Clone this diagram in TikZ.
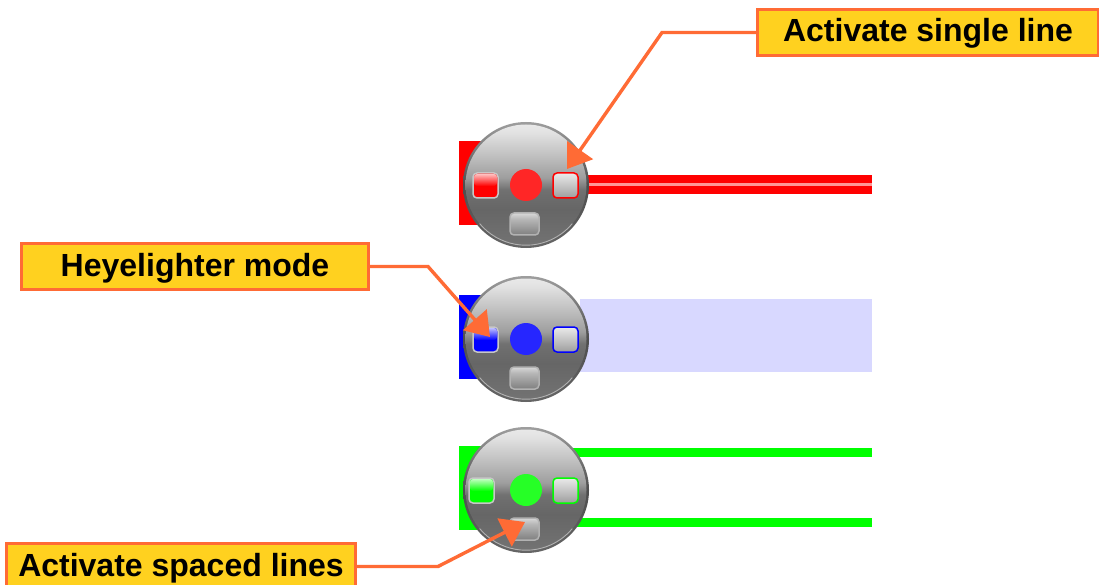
\documentclass[tikz,border=0pt]{standalone}
\usepackage{fontspec}
\setmainfont{Liberation Sans}
\usetikzlibrary{arrows.meta}
\definecolor{calloutfill}{RGB}{255,209,31}
\definecolor{calloutline}{RGB}{255,107,53}
\definecolor{palered}{RGB}{255,150,150}
\definecolor{paleblue}{RGB}{216,216,255}
\definecolor{puregreen}{RGB}{0,255,0}
\pgfdeclareverticalshading{ballshade}{100bp}{
  color(0bp)=(black!60); color(25bp)=(black!55); color(40bp)=(black!60);
  color(48bp)=(black!56); color(53bp)=(black!38); color(62bp)=(black!25); color(72bp)=(black!11); color(75bp)=(black!9); color(100bp)=(black!9)}
\pgfdeclareverticalshading{rimshade}{100bp}{
  color(0bp)=(black!60); color(25bp)=(black!60); color(50bp)=(black!70); color(75bp)=(black!38); color(100bp)=(black!38)}
\pgfdeclareverticalshading{greybtn}{100bp}{
  color(0bp)=(black!50); color(25bp)=(black!50); color(62bp)=(black!28); color(75bp)=(black!15); color(100bp)=(black!15)}
\pgfdeclareverticalshading{lightbtn}{100bp}{
  color(0bp)=(black!38); color(25bp)=(black!38); color(75bp)=(black!8); color(100bp)=(black!8)}
\tikzset{
  callout/.style={draw=calloutline,fill=calloutfill,line width=3pt,inner sep=0pt,
    minimum height=46pt,text height=23pt,text depth=4pt,font=\fontsize{32}{38}\selectfont\bfseries,text=black,anchor=center},
  leader/.style={draw=calloutline,line width=3.4pt,line join=miter,
    -{Triangle[length=23pt,width=31pt]}},
  btn/.style={rounded corners=4pt,line width=1.5pt}
}
% #1 centre x, #2 centre y, #3 colour, #4 name, #5 left button shift
\newcommand{\gadget}[5]{%
  \fill[#3] (#1-67,#2-44) rectangle (#1-30,#2+40);
  \shade[shading=rimshade] (#1,#2) circle[radius=63];
  \shade[shading=ballshade] (#1,#2) circle[radius=60.5];
  \draw[black!30,line width=0.9pt] (#1+46.3,#2+38.6) arc[start angle=40,end angle=140,radius=60.5];
  % left button
  \path[btn,draw=black!22,fill=#3] (#1-53+#5,#2-12) rectangle (#1-28+#5,#2+13);
  \shade[rounded corners=3pt,top color=white!75!#3,bottom color=#3] (#1-52+#5,#2-11) rectangle (#1-29+#5,#2+1);
  % centre lamp
  \fill[#3!85!white] (#1,#2) circle[radius=16];
  % right button
  \shade[btn,draw=#3,shading=lightbtn] (#1+27,#2-12) rectangle (#1+52,#2+13);
  % bottom button
  \shade[btn,draw=black!30,shading=greybtn] (#1-16,#2+28) rectangle (#1+13,#2+50);
  \coordinate (#4) at (#1,#2);
}
\begin{document}
\begin{tikzpicture}[x=1pt,y=-1pt]
\useasboundingbox (0,0) rectangle (1099,585);
\clip (0,0) rectangle (1099,585);
\fill[white] (0,0) rectangle (1099,585);
% beams
\fill[red] (580,175) rectangle (872,194);
\fill[palered] (580,183) rectangle (872,186.5);
\fill[paleblue] (580,299) rectangle (872,372);
\fill[puregreen] (560,448) rectangle (872,457);
\fill[puregreen] (560,518) rectangle (872,527);
% widgets
\gadget{526}{185}{red}{wa}{0}
\gadget{526}{339}{blue}{wb}{0}
\gadget{526}{490}{puregreen}{wc}{-4}
% callouts
\node[callout,minimum width=341pt] (single) at (928,32.5) {Activate single line};
\node[callout,minimum width=347pt] (heye) at (195,266.5) {Heyelighter mode};
\node[callout,minimum width=349pt] (spaced) at (181,566.5) {Activate spaced lines};
% leaders
\coordinate (bendA) at (662,32.5);
\coordinate (tipA) at (567,169);
\coordinate (bendB) at (428,266.5);
\coordinate (tipB) at (490,337);
\coordinate (bendC) at (438,566.5);
\coordinate (tipC) at (525,522);
\draw[leader] (single.west) -- (bendA) -- (tipA);
\draw[leader] (heye.east) -- (bendB) -- (tipB);
\draw[leader] (spaced.east) -- (bendC) -- (tipC);
\end{tikzpicture}
\end{document}
